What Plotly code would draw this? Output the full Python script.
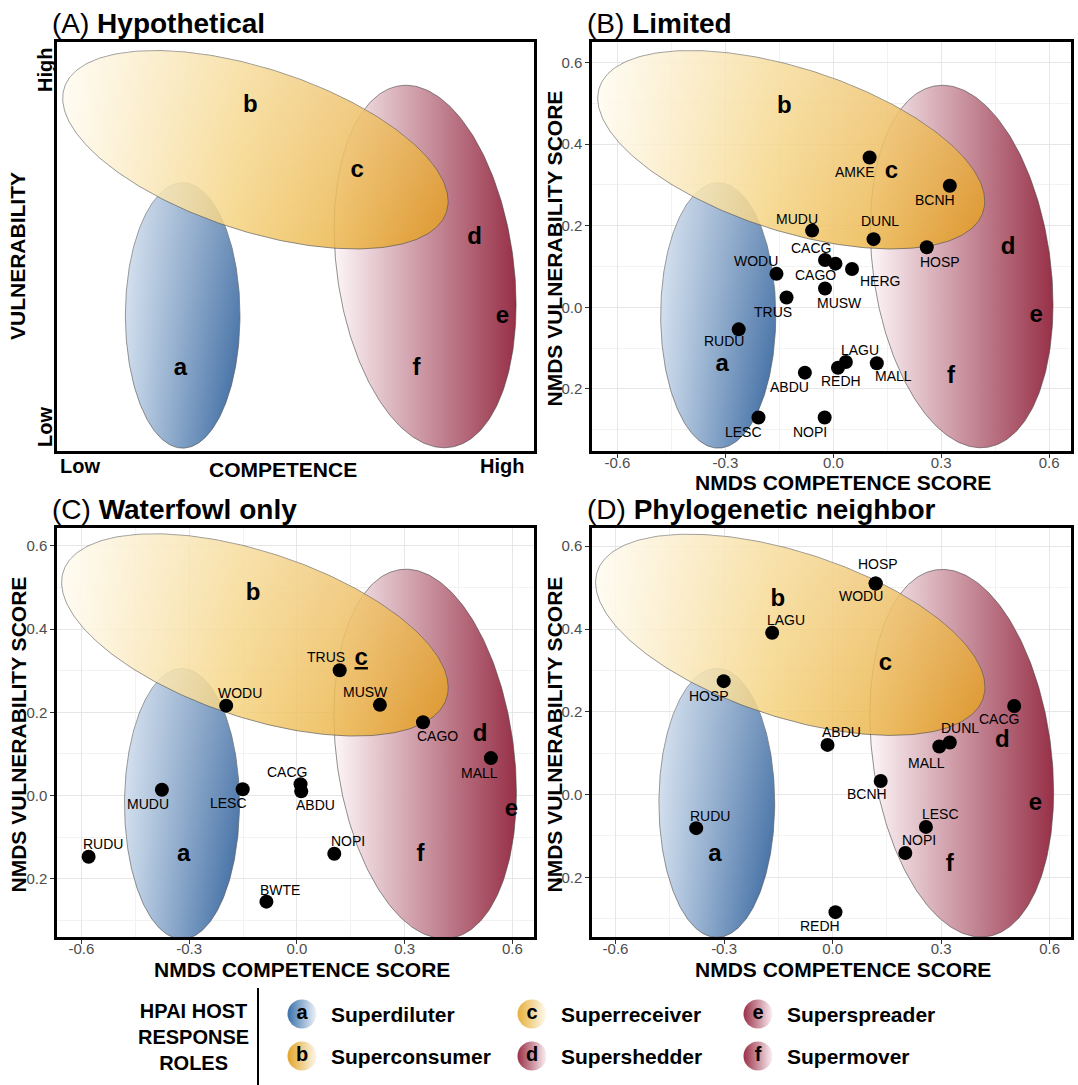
import numpy as np
import plotly.graph_objects as go

W, H = 1078, 1085
FONT = "Liberation Sans, Arial, Helvetica, sans-serif"

# ---------------- data ----------------
# Panel B : Limited
B_codes = ["AMKE", "BCNH", "MUDU", "DUNL", "HOSP", "CACG", "CAGO", "HERG", "WODU",
           "MUSW", "TRUS", "RUDU", "LAGU", "REDH", "MALL", "ABDU", "LESC", "NOPI"]
B_x = [0.101, 0.324, -0.059, 0.112, 0.260, -0.023, 0.006, 0.052, -0.158,
       -0.023, -0.130, -0.263, 0.035, 0.013, 0.121, -0.079, -0.208, -0.024]
B_y = [0.367, 0.298, 0.188, 0.167, 0.147, 0.116, 0.107, 0.094, 0.082,
       0.046, 0.024, -0.054, -0.134, -0.148, -0.137, -0.160, -0.270, -0.270]

# Panel C : Waterfowl only
C_codes = ["TRUS", "WODU", "MUSW", "CAGO", "MALL", "CACG", "ABDU", "MUDU", "LESC",
           "NOPI", "RUDU", "BWTE"]
C_x = [0.119, -0.197, 0.231, 0.351, 0.540, 0.010, 0.012, -0.376, -0.151,
       0.104, -0.580, -0.085]
C_y = [0.301, 0.216, 0.218, 0.176, 0.090, 0.027, 0.010, 0.014, 0.015,
       -0.140, -0.147, -0.255]

# Panel D : Phylogenetic neighbor
D_codes = ["HOSP", "WODU", "LAGU", "HOSP", "CACG", "DUNL", "MALL", "ABDU", "BCNH",
           "LESC", "NOPI", "RUDU", "REDH"]
D_x = [0.119, 0.119, -0.167, -0.301, 0.502, 0.324, 0.295, -0.014, 0.133,
       0.258, 0.201, -0.377, 0.008]
D_y = [0.510, 0.510, 0.391, 0.274, 0.214, 0.126, 0.116, 0.120, 0.033,
       -0.078, -0.141, -0.081, -0.284]

# role letters and where they sit in each panel
role_letters = ["a", "b", "c", "d", "e", "f"]
role_names = ["Superdiluter", "Superconsumer", "Superreceiver",
              "Supershedder", "Superspreader", "Supermover"]
A_letter_x = [-0.326, -0.131, 0.167, 0.495, 0.573, 0.333]
A_letter_y = [-0.150, 0.493, 0.333, 0.169, -0.023, -0.150]
B_letter_x = [-0.309, -0.136, 0.162, 0.486, 0.564, 0.327]
B_letter_y = [-0.142, 0.490, 0.332, 0.146, -0.022, -0.171]
C_letter_x = [-0.315, -0.122, 0.179, 0.510, 0.597, 0.344]
C_letter_y = [-0.143, 0.485, 0.328, 0.146, -0.034, -0.143]
D_letter_x = [-0.325, -0.151, 0.146, 0.469, 0.561, 0.324]
D_letter_y = [-0.147, 0.469, 0.315, 0.130, -0.023, -0.169]

x_tickvals = [-0.6, -0.3, 0.0, 0.3, 0.6]
x_ticktext = ["-0.6", "-0.3", "0.0", "0.3", "0.6"]
y_tickvals = [-0.2, 0.0, 0.2, 0.4, 0.6]
y_ticktext = ["-0.2", "0.0", "0.2", "0.4", "0.6"]

# ---------------- styling / layout helpers ----------------
B_off = [(-15, -14), (-15, -14), (-15, 12), (6, 18), (13, -15), (-14, 12), (-20, -11),
         (28, -12), (-20, 13), (14, -14), (-14, -14), (-15, -12), (14, 12), (3, -13),
         (17, -13), (-15, -14), (-15, -14), (-15, -14)]
C_off = [(-14, 13), (14, 13), (-14, 13), (14, -14), (-11, -15), (-14, 12), (14, -14),
         (-14, -14), (-14, -14), (14, 13), (14, 13), (14, 12)]
D_off = [(2, 19), (-15, -13), (14, 13), (-15, -15), (-15, -13), (10, 14), (-13, -16),
         (14, 13), (-14, -13), (15, 13), (14, 13), (14, 12), (-15, -14)]

ELL = {
    "blue": (-0.32, -0.02, 0.160, 0.325, 0.0),
    "red": (0.357, 0.100, 0.254, 0.444, -0.21),
    "yellow": (-0.117, 0.386, 0.538, 0.243, -0.52),
}

cols = {1: (57, 534), 2: (592, 1071)}
rows = {1: (42, 451), 2: (528, 937)}
panels = [
    ("A", 1, 1, "", [-0.671, 0.661], [-0.352, 0.650]),
    ("B", 1, 2, "2", [-0.671, 0.661], [-0.352, 0.650]),
    ("C", 2, 1, "3", [-0.668, 0.660], [-0.340, 0.643]),
    ("D", 2, 2, "4", [-0.665, 0.659], [-0.344, 0.644]),
]
titles = {"A": "Hypothetical", "B": "Limited", "C": "Waterfowl only",
          "D": "Phylogenetic neighbor"}


def ellipse(cx, cy, rx, ry, rho, n=300):
    t = np.linspace(0, 2 * np.pi, n)
    phi = np.arccos(rho)
    return cx + rx * np.cos(t), cy + ry * np.cos(t - phi)


fig = go.Figure()
OUTLINE = dict(color="rgba(70,70,70,0.85)", width=0.7)


def add_ellipses(xa, ya):
    ex, ey = ellipse(*ELL["blue"])
    fig.add_trace(go.Scatter(x=ex, y=ey, mode="lines", fill="toself", line=OUTLINE,
                             fillgradient=dict(type="horizontal", colorscale=[
                                 [0, "rgba(200,216,234,0.97)"], [1, "rgba(44,94,154,0.97)"]]),
                             xaxis=xa, yaxis=ya, hoverinfo="skip", showlegend=False))
    fig.add_trace(go.Scatter(x=ex, y=ey, mode="none", fill="toself",
                             fillgradient=dict(type="vertical", colorscale=[
                                 [0, "rgba(255,255,255,0)"], [1, "rgba(255,255,255,0.32)"]]),
                             xaxis=xa, yaxis=ya, hoverinfo="skip", showlegend=False))
    ex, ey = ellipse(*ELL["red"])
    fig.add_trace(go.Scatter(x=ex, y=ey, mode="lines", fill="toself", line=OUTLINE,
                             fillgradient=dict(type="horizontal", colorscale=[
                                 [0, "rgba(253,246,248,0.97)"], [1, "rgba(148,42,66,0.97)"]]),
                             xaxis=xa, yaxis=ya, hoverinfo="skip", showlegend=False))
    ex, ey = ellipse(*ELL["yellow"])
    fig.add_trace(go.Scatter(x=ex, y=ey, mode="lines", fill="toself", line=OUTLINE,
                             fillgradient=dict(type="horizontal", colorscale=[
                                 [0, "rgba(255,250,236,0.84)"], [0.45, "rgba(244,208,120,0.84)"],
                                 [1, "rgba(226,154,30,0.86)"]]),
                             xaxis=xa, yaxis=ya, hoverinfo="skip", showlegend=False))
    fig.add_trace(go.Scatter(x=ex, y=ey, mode="none", fill="toself",
                             fillgradient=dict(type="vertical", colorscale=[
                                 [0, "rgba(255,255,255,0)"], [1, "rgba(255,255,255,0.30)"]]),
                             xaxis=xa, yaxis=ya, hoverinfo="skip", showlegend=False))


letters = {"A": (A_letter_x, A_letter_y), "B": (B_letter_x, B_letter_y),
           "C": (C_letter_x, C_letter_y), "D": (D_letter_x, D_letter_y)}
points = {"B": (B_codes, B_x, B_y, B_off), "C": (C_codes, C_x, C_y, C_off),
          "D": (D_codes, D_x, D_y, D_off)}

layout_axes = {}
annotations = []


def paper_text(px, py, text, size, angle=0, xanchor="center"):
    annotations.append(dict(x=px / W, y=1 - py / H, xref="paper", yref="paper",
                            xanchor=xanchor, yanchor="middle", showarrow=False,
                            text=text, textangle=angle,
                            font=dict(size=size, color="black", family=FONT)))


for name, r, c, sfx, xr, yr in panels:
    xa, ya = "x" + sfx, "y" + sfx
    x0, x1 = cols[c]
    y0, y1 = rows[r]
    hyp = name == "A"
    common = dict(showline=True, mirror=True, linecolor="black", linewidth=2.5,
                  zeroline=False, fixedrange=True)
    layout_axes["xaxis" + sfx] = dict(
        domain=[x0 / W, x1 / W], range=xr, anchor=ya,
        showgrid=not hyp, gridcolor="#e6e6e6", gridwidth=1,
        minor=dict(dtick=0.15, tick0=0, showgrid=not hyp, gridcolor="#f2f2f2", gridwidth=0.7),
        tickmode="array", tickvals=x_tickvals, ticktext=x_ticktext,
        showticklabels=not hyp, ticks="" if hyp else "outside", ticklen=4,
        ticklabelstandoff=-8,
        tickcolor="#333333", tickfont=dict(size=15, color="#4d4d4d", family=FONT), **common)
    layout_axes["yaxis" + sfx] = dict(
        domain=[1 - y1 / H, 1 - y0 / H], range=yr, anchor=xa,
        showgrid=not hyp, gridcolor="#e6e6e6", gridwidth=1,
        minor=dict(dtick=0.1, tick0=0, showgrid=not hyp, gridcolor="#f2f2f2", gridwidth=0.7),
        tickmode="array", tickvals=y_tickvals, ticktext=y_ticktext,
        showticklabels=not hyp, ticks="" if hyp else "outside", ticklen=4,
        tickcolor="#333333", tickfont=dict(size=15, color="#4d4d4d", family=FONT), **common)

    add_ellipses(xa, ya)

    lx, ly = letters[name]
    ltxt = ["<b>%s</b>" % l for l in role_letters]
    if name == "C":
        ltxt[2] = "<b><u>c</u></b>"
    fig.add_trace(go.Scatter(x=lx, y=ly, mode="text", text=ltxt,
                             textfont=dict(size=24, color="black", family=FONT),
                             xaxis=xa, yaxis=ya, hoverinfo="skip", showlegend=False))

    if name in points:
        codes, px, py, offs = points[name]
        fig.add_trace(go.Scatter(x=px, y=py, mode="markers",
                                 marker=dict(size=14, color="black"),
                                 xaxis=xa, yaxis=ya, hoverinfo="skip", showlegend=False))
        for code, vx, vy, (dx, dy) in zip(codes, px, py, offs):
            annotations.append(dict(x=vx, y=vy, xref=xa, yref=ya, text=code,
                                    xanchor="center", yanchor="middle",
                                    showarrow=False, xshift=dx, yshift=dy,
                                    font=dict(size=14, color="black", family=FONT)))

    # panel title
    paper_text(x0 - 7, y0 - 18, "(%s) <b>%s</b>" % (name, titles[name]), 28, xanchor="left")
    # axis titles
    if hyp:
        paper_text(283, 469, "<b>COMPETENCE</b>", 21)
        paper_text(17, 256, "<b>VULNERABILITY</b>", 21, angle=-90)
        for txt, px_, py_, ang in [("Low", 80, 466, 0), ("High", 502, 466, 0),
                                   ("High", 45, 70, -90), ("Low", 45, 427, -90)]:
            paper_text(px_, py_, "<b>%s</b>" % txt, 20, angle=ang)
    else:
        xt_x = 843 if c == 2 else 302
        xt_y = y1 + 31 if r == 1 else y1 + 32
        paper_text(xt_x, xt_y, "<b>NMDS COMPETENCE SCORE</b>", 21)
        yt_x = 554 if c == 2 else 18
        paper_text(yt_x, (y0 + y1) / 2 + 2, "<b>NMDS VULNERABILITY SCORE</b>", 21, angle=-90)

# ---------------- legend (role key) ----------------
layout_axes["xaxis5"] = dict(domain=[0, 1], range=[0, W], visible=False, anchor="y5",
                             fixedrange=True)
layout_axes["yaxis5"] = dict(domain=[0, (H - 975) / H], range=[H, 975], visible=False,
                             anchor="x5", fixedrange=True)

key_left = ["#3a70aa", "#e2a52c", "#e6b03a", "#9a3048", "#9a3048", "#9a3048"]
key_right = ["#eef3f9", "#fdf7ea", "#fffbf2", "#fbf0f3", "#fbf0f3", "#fbf0f3"]
col_x = [302, 532, 758]
row_y = [1014, 1056]
kx = [col_x[i // 2] for i in range(6)]
ky = [row_y[i % 2] for i in range(6)]
for i in range(6):
    fig.add_trace(go.Scatter(
        x=[kx[i]], y=[ky[i]], mode="markers+text", text=["<b>%s</b>" % role_letters[i]],
        textposition="middle center", textfont=dict(size=20, color="black", family=FONT),
        marker=dict(size=29, color=key_left[i], line=dict(width=0),
                    gradient=dict(type="horizontal", color=key_right[i])),
        xaxis="x5", yaxis="y5", hoverinfo="skip", showlegend=False))
    annotations.append(dict(x=kx[i] + 27, y=ky[i], xref="x5", yref="y5", xanchor="left",
                            yanchor="middle", showarrow=False,
                            text="<b>%s</b>" % role_names[i],
                            font=dict(size=21, color="black", family=FONT)))

annotations.append(dict(x=193 / W, y=1 - 1037 / H, xref="paper", yref="paper",
                        xanchor="center", yanchor="middle",
                        showarrow=False, align="center",
                        text="<b>HPAI HOST<br>RESPONSE<br>ROLES</b>",
                        font=dict(size=20, color="black", family=FONT)))

shapes = [dict(type="line", xref="paper", yref="paper", x0=258 / W, x1=258 / W,
               y0=0, y1=1 - 988 / H, line=dict(color="black", width=2))]

fig.update_layout(width=W, height=H, margin=dict(l=0, r=0, t=0, b=0),
                  paper_bgcolor="white", plot_bgcolor="white",
                  font=dict(family=FONT), showlegend=False,
                  annotations=annotations, shapes=shapes, **layout_axes)

fig.write_html("out.html", config={"displayModeBar": False},
               post_script="document.body.style.margin='0';"
                           "document.body.style.overflow='hidden';")
